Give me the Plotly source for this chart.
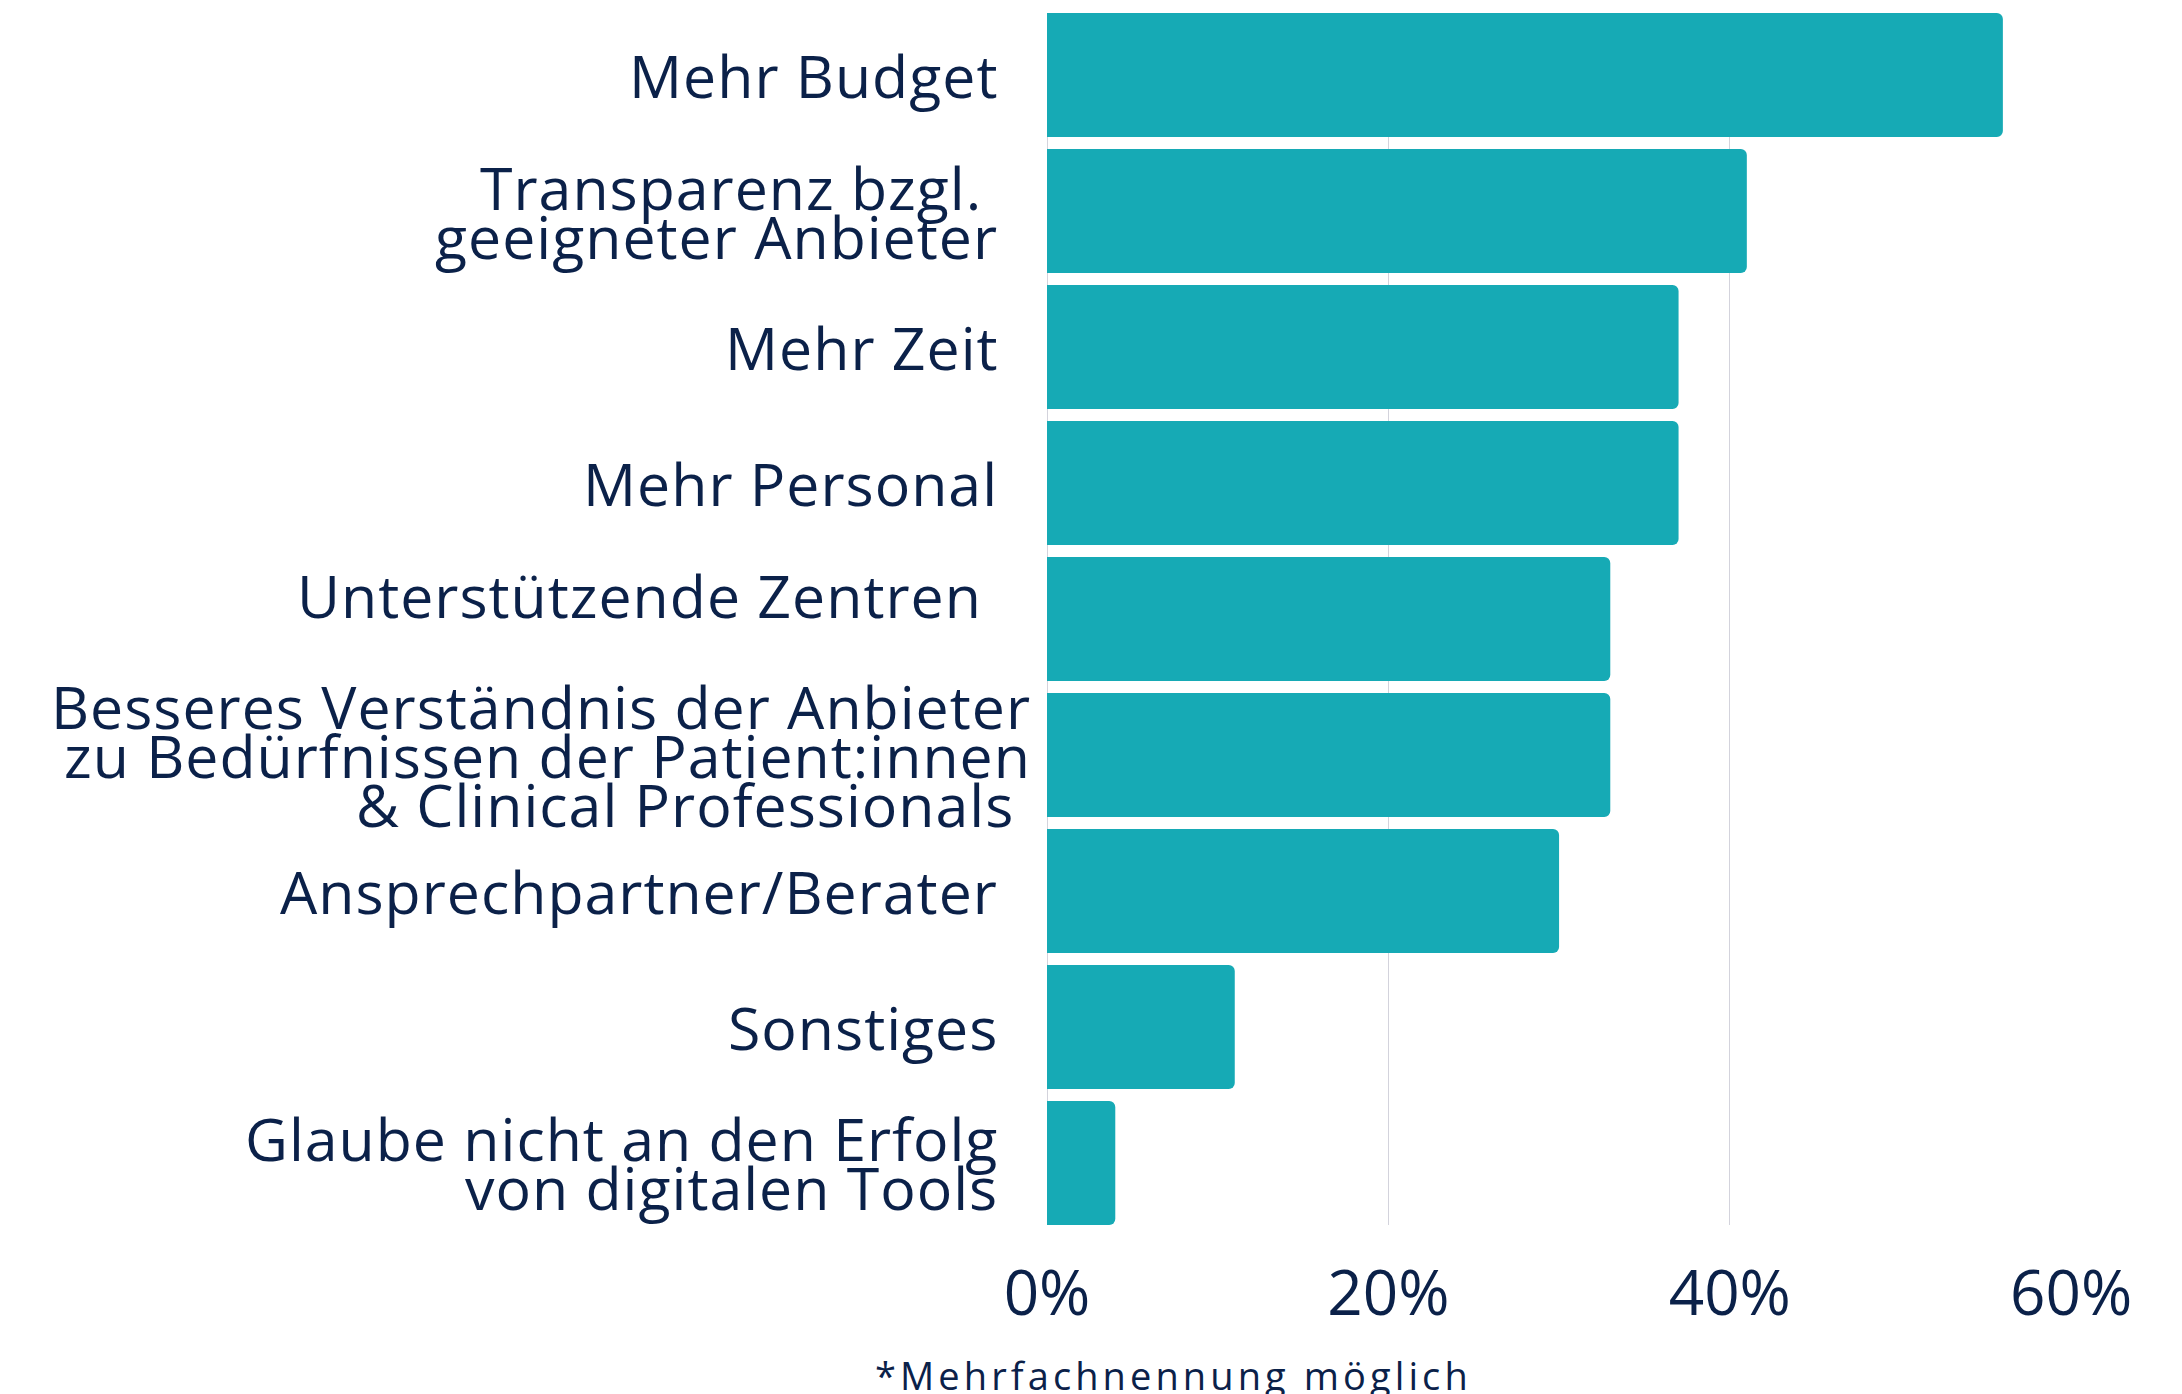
import plotly.graph_objects as go

# ---- data ----
categories = [
    "Mehr Budget",
    "Transparenz bzgl.\ngeeigneter Anbieter",
    "Mehr Zeit",
    "Mehr Personal",
    "Unterstützende Zentren\n",
    "Besseres Verständnis der Anbieter\nzu Bedürfnissen der Patient:innen\n& Clinical Professionals",
    "Ansprechpartner/Berater",
    "Sonstiges",
    "Glaube nicht an den Erfolg\nvon digitalen Tools",
]
# trailing padding (non-breaking spaces) per label line, as in the original text
trailing = [
    [2],
    [3, 2],
    [2],
    [2],
    [3, 0],
    [0, 0, 1],
    [2],
    [2],
    [2, 2],
]
values = [56, 41, 37, 37, 33, 33, 30, 11, 4]
tick_vals = [0, 20, 40, 60]
tick_text = ["0%", "20%", "40%", "60%"]
footnote = "*Mehrfachnennung möglich"

NAVY = "#0b2149"
TEAL = "#16aab5"
FONT = "Open Sans"

# the page body has an 8px margin: the figure is drawn from (8, 8)
W, H = 2166, 1386
ML, MR, MT, MB = 1039, 102, 5, 169
LINE_PX = 49
BARGAP = 0.088

fig = go.Figure()
fig.add_trace(go.Bar(
    x=values,
    y=list(range(len(categories))),
    orientation="h",
    marker=dict(color=TEAL, cornerradius=6, line=dict(width=0)),
    hoverinfo="skip",
))

annotations = []
for i, (lab, pads) in enumerate(zip(categories, trailing)):
    lines = lab.split("\n")
    n = len(lines)
    for j, ln in enumerate(lines):
        pad = pads[j] if j < len(pads) else 0
        txt = ln + "\u00a0" * pad
        if txt == "":
            continue
        annotations.append(dict(
            x=0, xref="x", y=i, yref="y",
            text='<span style="letter-spacing:1px">' + txt + "</span>",
            showarrow=False,
            xanchor="right", yanchor="middle", xshift=-14,
            yshift=((n - 1) / 2 - j) * LINE_PX,
            font=dict(family=FONT, size=59, color=NAVY),
        ))

annotations.append(dict(
    x=0.1235, xref="paper", y=-0.1235, yref="paper",
    text='<span style="letter-spacing:4.1px">' + footnote + "</span>",
    showarrow=False, xanchor="center", yanchor="middle",
    font=dict(family=FONT, size=38, color=NAVY),
))

half = (1 - BARGAP) / 2
fig.update_layout(
    width=W, height=H,
    margin=dict(l=ML, r=MR, t=MT, b=MB, pad=0, autoexpand=False),
    paper_bgcolor="white", plot_bgcolor="white",
    bargap=BARGAP,
    showlegend=False,
    annotations=annotations,
    xaxis=dict(
        range=[0, 60.05],
        tickvals=tick_vals, ticktext=tick_text,
        showgrid=True, gridcolor="#d3d3dc", gridwidth=1.3,
        zeroline=True, zerolinecolor="#d3d3dc", zerolinewidth=1.3,
        showline=False,
        ticks="outside", ticklen=15, tickcolor="rgba(0,0,0,0)",
        tickfont=dict(family=FONT, size=62, color=NAVY),
        fixedrange=True,
    ),
    yaxis=dict(
        range=[len(categories) - 1 + half, -half],
        showticklabels=False, showgrid=False, zeroline=False, showline=False,
        fixedrange=True,
    ),
)

fig.write_html("out.html")
